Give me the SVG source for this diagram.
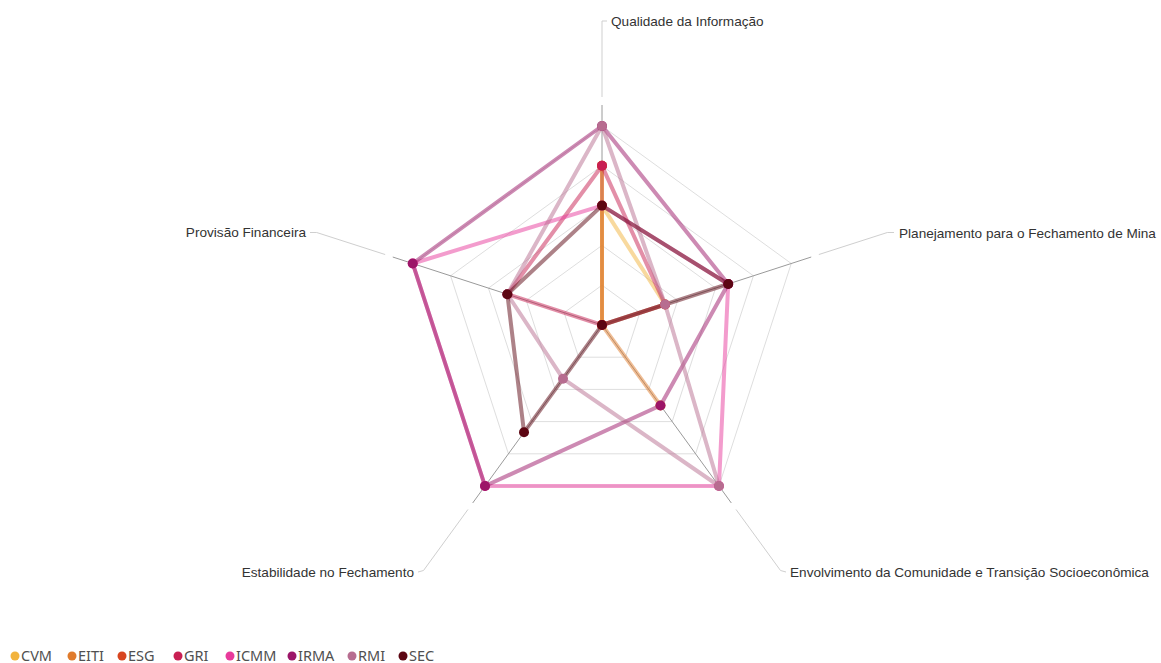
<svg xmlns="http://www.w3.org/2000/svg" width="1161" height="663" viewBox="0 0 1161 663">
<style>
.grid{fill:none;stroke:#dedede;stroke-width:1}
.axis{stroke:#9a9a9a;stroke-width:1}
.leader{fill:none;stroke:#cfcfcf;stroke-width:1}
.lbl{font-family:"Liberation Sans",Arial,sans-serif;font-size:13.6px;fill:#333333}
.ser{fill:none;stroke-width:4;stroke-opacity:0.5;stroke-linejoin:round}
.leg{font-family:"Noto Sans","Open Sans",sans-serif;font-size:14.5px;fill:#505050}
.s-cvm{stroke:#F2B33D}.f-cvm{fill:#F2B33D}
.s-eiti{stroke:#E07B2B}.f-eiti{fill:#E07B2B}
.s-esg{stroke:#D8451F}.f-esg{fill:#D8451F}
.s-gri{stroke:#C81F52}.f-gri{fill:#C81F52}
.s-icmm{stroke:#E83A9B}.f-icmm{fill:#E83A9B}
.s-irma{stroke:#9C1568}.f-irma{fill:#9C1568}
.s-rmi{stroke:#B76D90}.f-rmi{fill:#B76D90}
.s-sec{stroke:#5C0612}.f-sec{fill:#5C0612}
</style>
<rect width="1161" height="663" fill="#ffffff"/>
<g id="grid">
<polygon class="grid" points="602,285.2 639.85,312.7 625.39,357.2 578.61,357.2 564.15,312.7"/>
<polygon class="grid" points="602,245.4 677.7,300.4 648.79,389.4 555.21,389.4 526.3,300.4"/>
<polygon class="grid" points="602,205.6 715.56,288.1 672.18,421.6 531.82,421.6 488.44,288.1"/>
<polygon class="grid" points="602,165.8 753.41,275.8 695.58,453.8 508.42,453.8 450.59,275.8"/>
<polygon class="grid" points="602,126 791.26,263.5 718.97,486 485.03,486 412.74,263.5"/>
<line class="axis" x1="602" y1="325" x2="602" y2="105"/>
<line class="axis" x1="602" y1="325" x2="811.23" y2="257.02"/>
<line class="axis" x1="602" y1="325" x2="731.31" y2="502.98"/>
<line class="axis" x1="602" y1="325" x2="472.69" y2="502.98"/>
<line class="axis" x1="602" y1="325" x2="392.77" y2="257.02"/>
</g>
<g id="axis-labels">
<g id="label-qualidade">
<polyline class="leader" points="602,97 602,21 607,21"/>
<text class="lbl" x="611" y="26">Qualidade da Informação</text>
</g>
<g id="label-planejamento">
<polyline class="leader" points="818.84,254.54 887.3,232.5 894,232.5"/>
<text class="lbl" x="899" y="237.5">Planejamento para o Fechamento de Mina</text>
</g>
<g id="label-envolvimento">
<polyline class="leader" points="736.02,509.46 780.5,570.5 786,572"/>
<text class="lbl" x="790" y="577">Envolvimento da Comunidade e Transição Socioeconômica</text>
</g>
<g id="label-estabilidade">
<polyline class="leader" points="467.98,509.46 423.5,570.5 418,572"/>
<text class="lbl" x="414" y="577" text-anchor="end">Estabilidade no Fechamento</text>
</g>
<g id="label-provisao">
<polyline class="leader" points="385.16,254.54 316.7,232.5 310,232.5"/>
<text class="lbl" x="306" y="237" text-anchor="end">Provisão Financeira</text>
</g>
</g>
<g id="connectors">
<polygon class="ser s-esg" points="602,165.8 602,325 602,325 602,325 602,325"/>
<polygon class="ser s-cvm" points="602,205.6 665.09,304.5 602,325 602,325 602,325"/>
<polygon class="ser s-eiti" points="602,165.8 602,325 660.49,405.5 602,325 602,325"/>
<polygon class="ser s-gri" points="602,165.8 665.09,304.5 602,325 602,325 507.37,294.25"/>
<polygon class="ser s-icmm" points="602,205.6 728.18,284 718.97,486 485.03,486 412.74,263.5"/>
<polygon class="ser s-irma" points="602,126 728.18,284 660.49,405.5 485.03,486 412.74,263.5"/>
<polygon class="ser s-rmi" points="602,126 665.09,304.5 718.97,486 563.01,378.67 507.37,294.25"/>
<polygon class="ser s-sec" points="602,205.6 728.18,284 602,325 524.02,432.33 507.37,294.25"/>
</g>
<g id="node-cvm" class="f-cvm">
<circle cx="602" cy="205.6" r="5"/><circle cx="665.09" cy="304.5" r="5"/><circle cx="602" cy="325" r="5"/>
</g>
<g id="node-eiti" class="f-eiti">
<circle cx="602" cy="165.8" r="5"/><circle cx="602" cy="325" r="5"/><circle cx="660.49" cy="405.5" r="5"/>
</g>
<g id="node-esg" class="f-esg">
<circle cx="602" cy="165.8" r="5"/><circle cx="602" cy="325" r="5"/>
</g>
<g id="node-gri" class="f-gri">
<circle cx="602" cy="165.8" r="5"/><circle cx="665.09" cy="304.5" r="5"/><circle cx="602" cy="325" r="5"/><circle cx="507.37" cy="294.25" r="5"/>
</g>
<g id="node-icmm" class="f-icmm">
<circle cx="602" cy="205.6" r="5"/><circle cx="728.18" cy="284" r="5"/><circle cx="718.97" cy="486" r="5"/><circle cx="485.03" cy="486" r="5"/><circle cx="412.74" cy="263.5" r="5"/>
</g>
<g id="node-irma" class="f-irma">
<circle cx="602" cy="126" r="5"/><circle cx="728.18" cy="284" r="5"/><circle cx="660.49" cy="405.5" r="5"/><circle cx="485.03" cy="486" r="5"/><circle cx="412.74" cy="263.5" r="5"/>
</g>
<g id="node-rmi" class="f-rmi">
<circle cx="602" cy="126" r="5"/><circle cx="665.09" cy="304.5" r="5"/><circle cx="718.97" cy="486" r="5"/><circle cx="563.01" cy="378.67" r="5"/><circle cx="507.37" cy="294.25" r="5"/>
</g>
<g id="node-sec" class="f-sec">
<circle cx="602" cy="205.6" r="5"/><circle cx="728.18" cy="284" r="5"/><circle cx="602" cy="325" r="5"/><circle cx="524.02" cy="432.33" r="5"/><circle cx="507.37" cy="294.25" r="5"/>
</g>
<g id="legend">
<circle class="f-cvm" cx="15" cy="656" r="4.5"/><text class="leg" x="21" y="661">CVM</text>
<circle class="f-eiti" cx="72" cy="656" r="4.5"/><text class="leg" x="78" y="661">EITI</text>
<circle class="f-esg" cx="122" cy="656" r="4.5"/><text class="leg" x="128" y="661">ESG</text>
<circle class="f-gri" cx="178" cy="656" r="4.5"/><text class="leg" x="184" y="661">GRI</text>
<circle class="f-icmm" cx="230" cy="656" r="4.5"/><text class="leg" x="236" y="661">ICMM</text>
<circle class="f-irma" cx="292" cy="656" r="4.5"/><text class="leg" x="298" y="661">IRMA</text>
<circle class="f-rmi" cx="352" cy="656" r="4.5"/><text class="leg" x="358" y="661">RMI</text>
<circle class="f-sec" cx="403" cy="656" r="4.5"/><text class="leg" x="409" y="661">SEC</text>
</g>
</svg>
